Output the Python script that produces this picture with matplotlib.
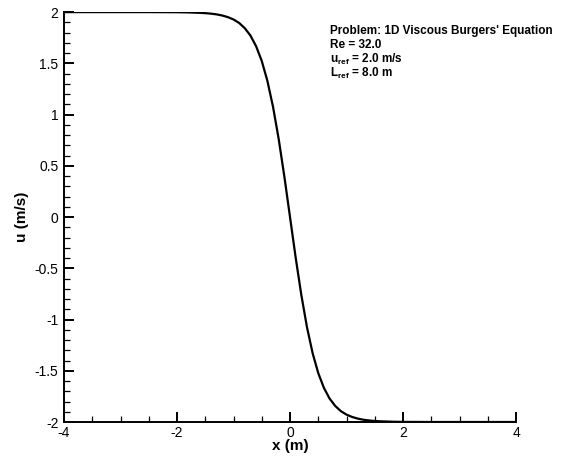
import matplotlib
matplotlib.use("Agg")
import matplotlib.pyplot as plt
from matplotlib.ticker import MultipleLocator

plt.rcParams['font.family'] = ['Liberation Sans', 'DejaVu Sans']

# steady viscous Burgers profile, sampled values
x_pos = [0.0, 0.1, 0.2, 0.3, 0.4, 0.5, 0.6, 0.7, 0.8, 0.9, 1.0, 1.1, 1.2,
         1.3, 1.4, 1.5, 1.6, 1.8, 2.0, 2.5, 3.0, 4.0]
u_pos = [0.0, -0.395, -0.760, -1.074, -1.328, -1.523, -1.667, -1.771, -1.843,
         -1.894, -1.928, -1.951, -1.967, -1.978, -1.985, -1.990, -1.993,
         -1.997, -1.999, -2.0, -2.0, -2.0]
x = [-v for v in x_pos[::-1]] + x_pos[1:]
u = [-v for v in u_pos[::-1]] + u_pos[1:]

info_lines = ["Problem: 1D Viscous Burgers' Equation",
              "Re = 32.0",
              r"u$_{\mathregular{ref}}$ = 2.0 m/s",
              r"L$_{\mathregular{ref}}$ = 8.0 m"]

fig = plt.figure(figsize=(5.65, 4.66), dpi=100)
ax = fig.add_axes([0.1133, 0.0944, 0.8, 0.8796])
ax.plot(x, u, color='black', linewidth=1.6)

ax.set_xlim(-4, 4)
ax.set_ylim(-2, 2)
ax.xaxis.set_major_locator(MultipleLocator(2))
ax.xaxis.set_minor_locator(MultipleLocator(0.5))
ax.yaxis.set_major_locator(MultipleLocator(0.5))
ax.yaxis.set_minor_locator(MultipleLocator(0.1))
ax.tick_params(which='both', direction='in', top=False, right=False,
               labelsize=10)
ax.tick_params(which='major', length=7, width=1.4)
ax.tick_params(axis='x', which='major', pad=3)
ax.tick_params(axis='y', which='major', pad=4)
ax.tick_params(which='minor', length=4, width=0.9)
ax.set_yticks([2, 1.5, 1, 0.5, 0, -0.5, -1, -1.5, -2])
ax.set_yticklabels(['2', '1.5', '1', '0.5', '0', '-0.5', '-1', '-1.5', '-2'])
ax.set_xticks([-4, -2, 0, 2, 4])
ax.set_xticklabels(['-4', '-2', '0', '2', '4'])

for side in ['top', 'right']:
    ax.spines[side].set_visible(False)
for side in ['left', 'bottom']:
    ax.spines[side].set_linewidth(1.4)

ax.set_xlabel('x (m)', fontsize=11, fontweight='bold', labelpad=-1)
ax.set_ylabel('u (m/s)', fontsize=11, fontweight='bold', labelpad=4)

baselines = [34, 48, 62.5, 77]
for line, yb in zip(info_lines, baselines):
    fig.text(330 / 565, 1 - yb / 466, line, fontsize=8.5,
             fontweight='bold', va='baseline', ha='left')

fig.savefig('out.png', dpi=100)
